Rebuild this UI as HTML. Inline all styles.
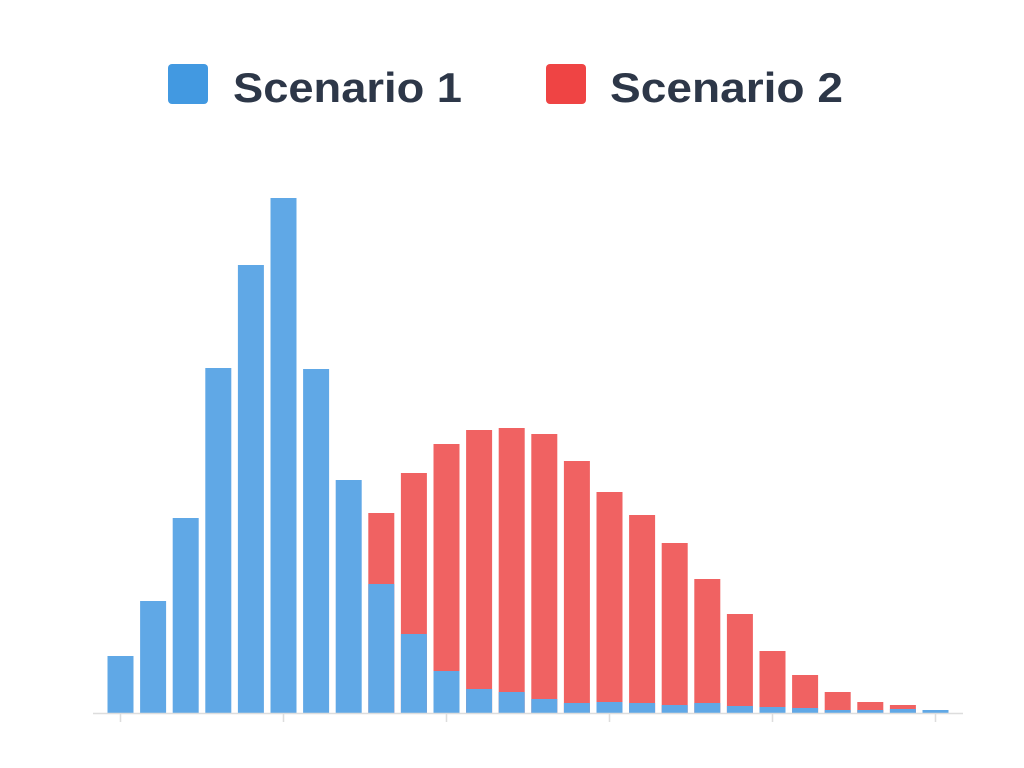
<!DOCTYPE html>
<html><head><meta charset="utf-8"><style>
html,body{margin:0;padding:0;background:#fff;width:1024px;height:768px;overflow:hidden}
svg{display:block}
text{font-family:"Liberation Sans",sans-serif}
</style></head><body>
<svg id="chart" width="1024" height="768">
<g>
 <rect x="168" y="64" width="40" height="40" rx="4" fill="#4299e1"/>
 <text x="233" y="102" font-size="42" font-weight="bold" fill="#2d3748" textLength="229" lengthAdjust="spacingAndGlyphs">Scenario 1</text>
 <rect x="546" y="64" width="40" height="40" rx="4" fill="#ef4444"/>
 <text x="610" y="102" font-size="42" font-weight="bold" fill="#2d3748" textLength="233" lengthAdjust="spacingAndGlyphs">Scenario 2</text>
</g>
<g id="bars2"></g>
<g id="bars1"></g>
<line x1="93" y1="713.5" x2="963" y2="713.5" stroke="#dddddd" stroke-width="1.5"/>
<g id="ticks"></g>
</svg>
<script>
const categories = Array.from({length:26},(_,i)=>i);
const scenario1 = [57,112,195,345,448,515,344,233,129,79,42,24,21,14,10,11,10,8,10,7,6,5,3,3,4,3];
const scenario2 = [0,0,0,0,0,0,0,0,200,240,269,283,285,279,252,221,198,170,134,99,62,38,21,11,8,0];
const tickCategories = [0,5,10,15,20,25];

const x0 = 120.5, step = 32.6, barW = 26, baseY = 713, maxV = 515, topY = 198;
function xScale(c){ return x0 + c*step; }
function yScale(v){ return baseY - v*(baseY-topY)/maxV; }
const NS = "http://www.w3.org/2000/svg";
function drawBars(gid, data, color, name){
  const g = document.getElementById(gid);
  data.forEach((v,i)=>{
    if(v<=0) return;
    const r = document.createElementNS(NS,'rect');
    r.setAttribute('x', xScale(categories[i]) - barW/2);
    r.setAttribute('y', yScale(v));
    r.setAttribute('width', barW);
    r.setAttribute('height', baseY - yScale(v));
    r.setAttribute('fill', color);
    
    
    g.appendChild(r);
  });
}
drawBars('bars2', scenario2, '#f06262', 'scenario-2');
drawBars('bars1', scenario1, '#60a8e6', 'scenario-1');
const tg = document.getElementById('ticks');
tickCategories.forEach(c=>{
  const l = document.createElementNS(NS,'line');
  l.setAttribute('x1', xScale(c)); l.setAttribute('x2', xScale(c));
  l.setAttribute('y1', 714); l.setAttribute('y2', 722);
  l.setAttribute('stroke', '#dddddd'); l.setAttribute('stroke-width', '1.5');
  
  
  tg.appendChild(l);
});
</script>
</body></html>
